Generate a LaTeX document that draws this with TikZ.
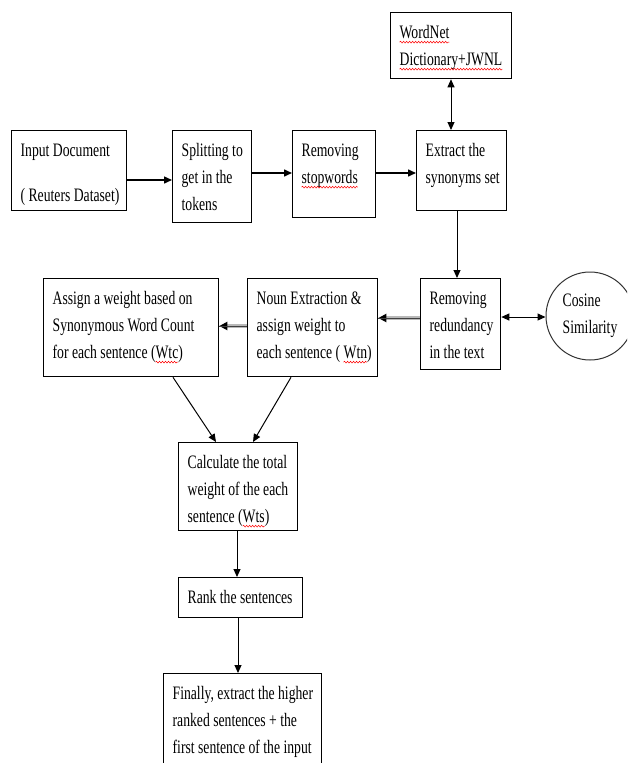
\documentclass[tikz,border=0pt]{standalone}
\usepackage{fontspec}
\setmainfont{Liberation Serif}[FakeStretch=0.72]
\usetikzlibrary{arrows.meta,decorations.pathmorphing}
\newlength\rwlen
\newcommand\rwave[1]{\leavevmode\settowidth\rwlen{#1}\rlap{#1}\tikz[x=1pt,y=1pt,baseline=0pt]{\path[use as bounding box] (0pt,0pt) rectangle (\rwlen,0pt);\draw[red,line width=0.5pt,decorate,decoration={snake,amplitude=0.9pt,segment length=3pt}] (0pt,-3.5pt) -- (\rwlen,-3.5pt);}}
\newcommand\bt[3]{\parbox[c][#2][t]{#1}{\raggedright\leftskip=9pt\rule{0pt}{26pt}#3}}
\begin{document}
\begin{tikzpicture}[x=1pt,y=-1pt,font=\fontsize{19}{27}\selectfont,
  box/.style={draw,line width=1.3pt,inner sep=0pt,anchor=north west},
  arr/.style={-{Triangle[length=8pt,width=7pt]},line width=1pt},
  harr/.style={-{Triangle[length=8pt,width=7pt]},line width=1.5pt},
  darr/.style={{Triangle[length=8pt,width=7pt]}-{Triangle[length=8pt,width=7pt]},line width=1pt},
  garr/.style={-{Triangle[length=8pt,width=8pt,black]},line width=3.2pt,draw=gray!55,
    postaction={draw=black!75,line width=1pt,-}}]
\useasboundingbox (0,0) rectangle (627,763);
\clip (0,0) rectangle (627,763);
\node[box] (wn) at (390,12) {\bt{121pt}{66pt}{\rwave{WordNet}\\\rwave{Dictionary+JWNL}}};
\node[box] (in) at (11,130) {\bt{115pt}{80pt}{Input Document\\[18pt]( Reuters Dataset)}};
\node[box] (sp) at (172,130) {\bt{79pt}{92pt}{Splitting to\\get in the\\tokens}};
\node[box] (st) at (292,130) {\bt{83pt}{87pt}{Removing\\\rwave{stopwords}}};
\node[box] (ex) at (416,130) {\bt{90pt}{80pt}{Extract the\\synonyms set}};
\node[box] (rd) at (420,278) {\bt{80pt}{91pt}{Removing\\redundancy\\in the text}};
\node[draw,circle,line width=1pt,draw=black!80,minimum size=88pt,inner sep=0pt,align=left] (cs) at (590,316) {Cosine\\Similarity};
\node[box] (nn) at (247,278) {\bt{130pt}{98pt}{Noun Extraction \&\\assign weight to\\each sentence ( \rwave{Wtn})}};
\node[box] (as) at (43,278) {\bt{175pt}{98pt}{Assign a weight based on\\Synonymous Word Count\\for each sentence (\rwave{Wtc})}};
\node[box] (ca) at (178,442) {\bt{119pt}{88pt}{Calculate the total\\weight of the each\\sentence (\rwave{Wts})}};
\node[box] (rk) at (178,577) {\bt{124pt}{40pt}{Rank the sentences}};
\node[box] (fi) at (163,673) {\bt{158pt}{110pt}{Finally, extract the higher\\ranked sentences + the\\first sentence of the input}};
\draw[harr] (in.east |- 0,180) -- (sp.west |- 0,180);
\draw[harr] (sp.east |- 0,173) -- (st.west |- 0,173);
\draw[harr] (st.east |- 0,173) -- (ex.west |- 0,173);
\draw[darr] (wn.south -| 451,0) -- (ex.north -| 451,0);
\draw[arr] (ex.south -| 457,0) -- (rd.north -| 457,0);
\draw[darr] (rd.east |- 0,317) -- (cs.west |- 0,317);
\draw[garr] (rd.west |- 0,318) -- (nn.east |- 0,318);
\draw[garr] (nn.west |- 0,326) -- (as.east |- 0,326);
\draw[arr] (as.south -| 173,0) -- (ca.north -| 216,0);
\draw[arr] (nn.south -| 291,0) -- (ca.north -| 253,0);
\draw[arr] (ca.south -| 237,0) -- (rk.north -| 237,0);
\draw[arr] (rk.south -| 238,0) -- (fi.north -| 238,0);
\end{tikzpicture}
\end{document}
